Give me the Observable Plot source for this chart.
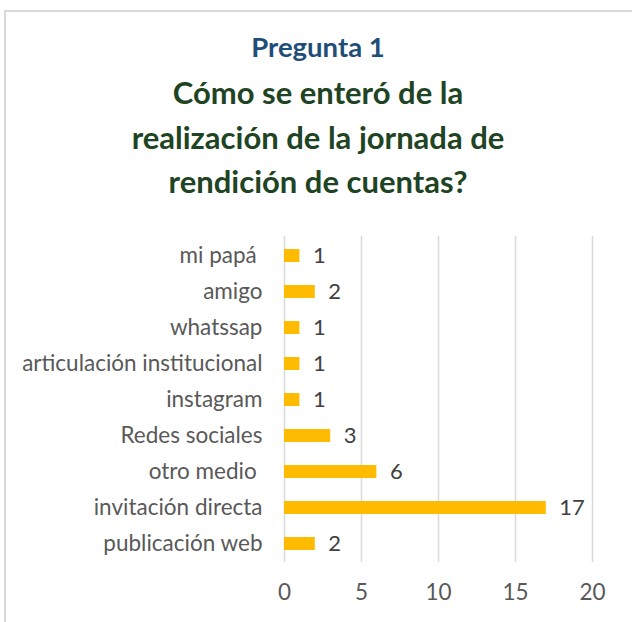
<!DOCTYPE html>
<html>
<head>
<meta charset="utf-8">
<script src="https://cdn.jsdelivr.net/npm/d3@7"></script>
<script src="https://cdn.jsdelivr.net/npm/@observablehq/plot@0.6"></script>
<style>
  html, body { margin: 0; padding: 0; background: #fff; }
  #wrap { position: relative; width: 632px; height: 622px; overflow: hidden; background: #fff; font-family: Lato, "Open Sans", sans-serif; }
  #frame { position: absolute; left: 4px; top: 10px; width: 640px; height: 640px; border-top: 2px solid #d9d9d9; border-left: 2px solid #d9d9d9; box-sizing: border-box; }
  #sub { position: absolute; left: 4px; width: 628px; top: 31px; text-align: center; color: #1f4e79; font-weight: bold; font-size: 27.5px; line-height: 32px; }
  #title { position: absolute; left: 4px; width: 628px; top: 70px; text-align: center; color: #1e4423; font-weight: bold; font-size: 31px; line-height: 44.5px; }
  #chart { position: absolute; left: 0; top: 220px; }
</style>
</head>
<body>
<div id="wrap">
  <div id="frame"></div>
  <div id="sub">Pregunta 1</div>
  <div id="title">Cómo se enteró de la<br>realización de la jornada de<br>rendición de cuentas?</div>
  <div id="chart"></div>
</div>
<script>
const categories = ["mi papá\u00a0", "amigo", "whatssap", "articulación institucional", "instagram", "Redes sociales", "otro medio\u00a0", "invitación directa", "publicación web"];
const values = [1, 2, 1, 1, 1, 3, 6, 17, 2];
const xTicks = [0, 5, 10, 15, 20];

const data = categories.map((c, i) => ({category: c, value: values[i]}));

const chart = Plot.plot({
  width: 632,
  height: 400,
  marginLeft: 284,
  marginRight: 40,
  marginTop: 16,
  marginBottom: 58,
  style: {fontFamily: "Lato, 'Open Sans', sans-serif", fontSize: "22.5px", color: "#595959", background: "transparent"},
  x: {domain: [0, 20], ticks: xTicks, tickSize: 0, tickPadding: 22, label: null},
  y: {domain: categories, paddingInner: 0.64, paddingOuter: 0.32, tickSize: 0, tickPadding: 22, label: null},
  marks: [
    Plot.ruleX(xTicks, {stroke: "#d9d9d9", strokeWidth: 1.5}),
    Plot.barX(data, {x: "value", y: "category", fill: "#ffbb00"}),
    Plot.text(data, {x: "value", y: "category", text: d => String(d.value), textAnchor: "start", dx: 13, fill: "#404040", fontSize: 22})
  ]
});
document.getElementById("chart").appendChild(chart);
</script>
</body>
</html>
